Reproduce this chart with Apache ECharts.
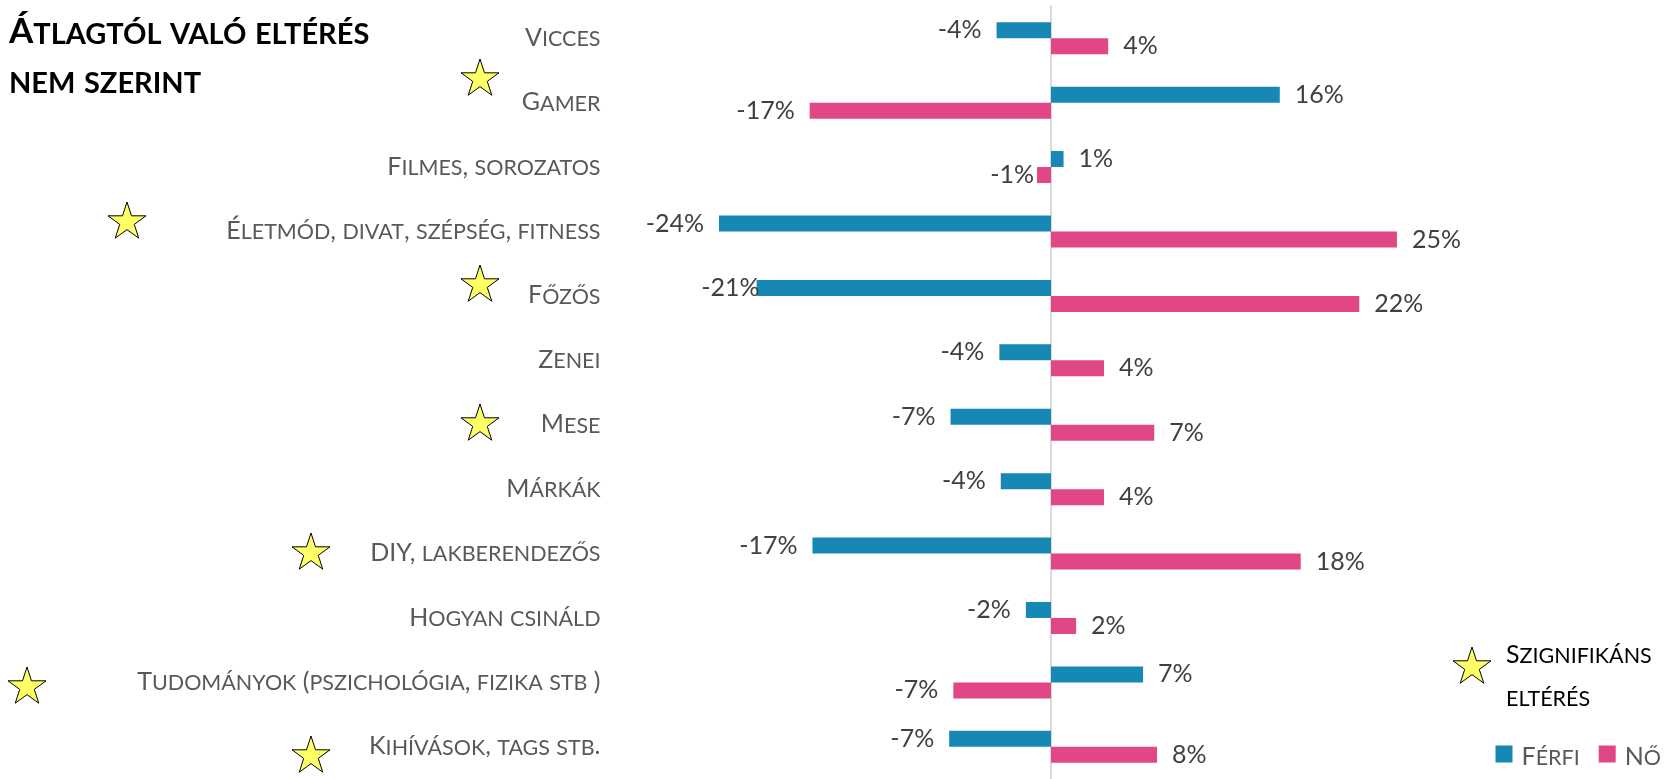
<!DOCTYPE html>
<html lang="hu">
<head>
<meta charset="UTF-8">
<title>Átlagtól való eltérés nem szerint</title>
<style>
    body {
        margin: 0;
        overflow: hidden;
        background: #fff;
    }

    #chart {
        width: 1664px;
        height: 779px;
    }
</style>
</head>
<body>
<div id="chart"></div>
<script src="https://cdn.jsdelivr.net/npm/echarts@6/dist/echarts.min.js"></script>
<script>
    // adatok (százalékpont eltérés az átlagtól)
    var categories = [
        'Vicces',
        'Gamer',
        'Filmes, sorozatos',
        'Életmód, divat, szépség, fitness',
        'Főzős',
        'Zenei',
        'Mese',
        'Márkák',
        'DIY, lakberendezős',
        'Hogyan csináld',
        'Tudományok (pszichológia, fizika stb )',
        'Kihívások, tags stb.'
    ];
    var ferfi = [-3.9, 16.4, 0.9, -23.8, -21.1, -3.7, -7.2, -3.6, -17.1, -1.8, 6.6, -7.3];
    var noi = [4.1, -17.3, -1.0, 24.8, 22.1, 3.8, 7.4, 3.8, 17.9, 1.8, -7.0, 7.6];
    var seriesNames = ['Férfi', 'Nő'];

    var BLUE = '#1788b3';
    var PINK = '#e14686';
    var FONT = 'Lato';
    var GRAY = '#595959';

    // csillagok helye (dekoráció)
    var stars = [
        [480, 79], [127, 222], [480, 285], [480, 424],
        [311, 553], [27, 687], [311, 756], [1472, 667]
    ];

    // címkék kézi eltolása (Excelben elhúzva)
    var labelDist = { 'Férfi-4': -3, 'Nő-2': 3 };

    // kiskapitális: nagybetű marad "b", kisbetű nagybetűvel "s" stílusban
    function smallCaps(str) {
        return str.split('\n').map(function (line) {
            var out = '', cur = null, buf = '';
            for (var i = 0; i < line.length; i++) {
                var ch = line[i];
                var kind = ch !== ch.toUpperCase() ? 's' : 'b';
                if (kind !== cur) {
                    if (buf) out += '{' + cur + '|' + buf + '}';
                    cur = kind;
                    buf = '';
                }
                buf += ch.toUpperCase();
            }
            if (buf) out += '{' + cur + '|' + buf + '}';
            return out;
        }).join('\n');
    }

    // alapvonalak egyeztetése: a kisebb betű sorának magassága rövidebb
    function capsRich(big, small, lh, color, weight) {
        var base = { fontFamily: FONT, color: color, fontWeight: weight, verticalAlign: 'bottom' };
        return {
            b: Object.assign({ fontSize: big, lineHeight: lh }, base),
            s: Object.assign({ fontSize: small, lineHeight: lh - 0.774 * (big - small) }, base)
        };
    }

    function starPoints(cx, cy, R) {
        var pts = [], r = R * 0.382;
        for (var i = 0; i < 10; i++) {
            var a = (-90 + i * 36) * Math.PI / 180;
            var rad = i % 2 ? r : R;
            pts.push([cx + rad * Math.cos(a), cy + rad * Math.sin(a)]);
        }
        return pts;
    }

    function makeData(values, name) {
        return values.map(function (v, i) {
            var d = labelDist[name + '-' + i];
            return {
                value: v,
                label: {
                    position: v < 0 ? 'left' : 'right',
                    distance: d != null ? d : 15
                }
            };
        });
    }

    var graphics = stars.map(function (p) {
        return {
            type: 'polygon',
            shape: { points: starPoints(p[0], p[1], 20) },
            style: { fill: '#ffff66', stroke: '#000', lineWidth: 1 },
            z: 10
        };
    });
    graphics.push({
        type: 'text',
        left: 1506,
        top: 642,
        style: {
            text: smallCaps('Szignifikáns\neltérés'),
            rich: capsRich(25, 21.5, 46, GRAY)
        }
    });

    var valueLabel = {
        show: true,
        fontSize: 25,
        fontFamily: FONT,
        color: '#404040',
        formatter: function (p) { return Math.round(p.value) + '%'; }
    };

    var myChart = echarts.init(document.getElementById('chart'));

    var option = {
        animation: false,
        title: {
            text: smallCaps('Átlagtól való eltérés\nnem szerint'),
            left: 9,
            top: 0,
            padding: 0,
            textStyle: {
                rich: capsRich(35, 29, 49, '#000', 'bold')
            }
        },
        legend: {
            data: seriesNames,
            right: 3,
            top: 744,
            padding: 0,
            icon: 'rect',
            itemWidth: 17,
            itemHeight: 17,
            itemGap: 19,
            formatter: function (name) { return smallCaps(name); },
            textStyle: {
                padding: [0, 0, 0, 4],
                rich: capsRich(25, 21.5, 30, GRAY)
            }
        },
        grid: {
            left: 632.5,
            width: 837,
            top: 6,
            height: 773
        },
        xAxis: {
            type: 'value',
            min: -30,
            max: 30,
            show: false
        },
        yAxis: [{
            // címkék a rács bal szélén
            type: 'category',
            data: categories,
            inverse: true,
            axisLine: { show: false, onZero: false },
            axisTick: { show: false },
            axisLabel: {
                margin: 32,
                padding: [0, 0, 6, 0],
                formatter: function (v) { return smallCaps(v); },
                rich: capsRich(25, 21.5, 30, GRAY)
            }
        }, {
            // tengelyvonal nullánál, kifelé álló osztások
            type: 'category',
            data: categories,
            inverse: true,
            axisLine: { onZero: true, onZeroAxisIndex: 0, lineStyle: { color: '#d9d9d9', width: 2 } },
            axisTick: { length: 10, lineStyle: { color: '#d9d9d9', width: 2 } },
            axisLabel: { show: false }
        }, {
            // befelé álló osztások
            type: 'category',
            data: categories,
            inverse: true,
            axisLine: { show: false, onZero: true, onZeroAxisIndex: 0 },
            axisTick: { inside: true, length: 10, lineStyle: { color: '#d9d9d9', width: 2 } },
            axisLabel: { show: false }
        }],
        series: [{
            name: seriesNames[0],
            type: 'bar',
            barWidth: 16,
            barGap: '0%',
            itemStyle: { color: BLUE },
            label: valueLabel,
            data: makeData(ferfi, 'Férfi')
        }, {
            name: seriesNames[1],
            type: 'bar',
            barWidth: 16,
            barGap: '0%',
            itemStyle: { color: PINK },
            label: valueLabel,
            data: makeData(noi, 'Nő')
        }],
        graphic: graphics
    };

    myChart.setOption(option);
</script>
</body>
</html>
